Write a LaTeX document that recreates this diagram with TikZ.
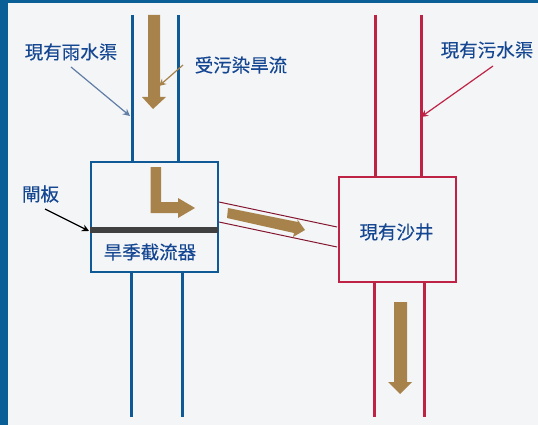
\documentclass[tikz,border=0pt]{standalone}
\usepackage{fontspec}
\setmainfont[FakeBold=0.3]{Noto Sans CJK TC}
\usetikzlibrary{arrows.meta}
\definecolor{frameblue}{RGB}{10,95,150}
\definecolor{paper}{RGB}{244,245,247}
\definecolor{pipeblue}{RGB}{15,90,150}
\definecolor{pipered}{RGB}{190,35,70}
\definecolor{flowbrown}{RGB}{168,130,75}
\definecolor{textblue}{RGB}{20,70,145}
\definecolor{leadgrey}{RGB}{95,125,165}
\tikzset{
  lbl/.style={text=textblue,font=\fontsize{18.5pt}{20pt}\selectfont,inner sep=0pt},
  bluepipe/.style={draw=pipeblue,line width=3pt},
  redpipe/.style={draw=pipered,line width=3pt},
  bluebox/.style={draw=pipeblue,line width=2pt,minimum width=127pt,minimum height=110pt,inner sep=0pt},
  redbox/.style={draw=pipered,line width=2.2pt,minimum width=117pt,minimum height=105pt,inner sep=0pt},
  flow/.style={fill=flowbrown,draw=none},
  thinred/.style={draw=pipered!70!black,line width=1pt},
  leader/.style={-{Stealth[length=7pt,width=7pt]},line width=1.2pt}
}
\begin{document}
\begin{tikzpicture}[x=1pt,y=-1pt]
  \useasboundingbox (0,0) rectangle (538,425);
  \fill[frameblue] (0,0) rectangle (538,425);
  \fill[paper] (7.5,3) rectangle (538,425);
  % boxes
  \node[bluebox] (diverter) at (154,217) {};
  \node[redbox] (well) at (397.5,229.5) {};
  % pipe ends
  \coordinate (rainLtop) at (132,15);
  \coordinate (rainRtop) at (178,15);
  \coordinate (rainLbot) at (131,417);
  \coordinate (rainRbot) at (182,417);
  \coordinate (sewLtop) at (375,15);
  \coordinate (sewRtop) at (421,15);
  \coordinate (sewLbot) at (374,417);
  \coordinate (sewRbot) at (424,417);
  \draw[bluepipe] (rainLtop) -- (diverter.north west -| rainLtop);
  \draw[bluepipe] (rainRtop) -- (diverter.north west -| rainRtop);
  \draw[bluepipe] (diverter.south west -| rainLbot) -- (rainLbot);
  \draw[bluepipe] (diverter.south west -| rainRbot) -- (rainRbot);
  \draw[redpipe] (sewLtop) -- (well.north west -| sewLtop);
  \draw[redpipe] (sewRtop) -- (well.north west -| sewRtop);
  \draw[redpipe] (well.south west -| sewLbot) -- (sewLbot);
  \draw[redpipe] (well.south west -| sewRbot) -- (sewRbot);
  % gate
  \fill[black!75] (90,227) rectangle (218,233);
  % link pipe
  \coordinate (linkAs) at (219,202);
  \coordinate (linkAe) at (337,227);
  \coordinate (linkBs) at (219,222);
  \coordinate (linkBe) at (337,247);
  \draw[thinred] (linkAs) -- (linkAe);
  \draw[thinred] (linkBs) -- (linkBe);
  % flows
  \fill[flow] (148,15) -- (160,15) -- (160,97) -- (166,97) -- (153,109) -- (142,97) -- (148,97) -- cycle;
  \fill[flow] (150.5,167) -- (161,167) -- (161,202) -- (178,202) -- (178,198) -- (195,208) -- (178,218) -- (178,213) -- (150.5,213) -- cycle;
  \fill[flow] (228,208) -- (298,222) -- (297,219) -- (305,230) -- (293,237) -- (294,233) -- (227,218) -- cycle;
  \fill[flow] (394,302) -- (407,302) -- (407,382) -- (412,382) -- (400,394) -- (388,382) -- (394,382) -- cycle;
  % labels
  \node[lbl] (rainlbl) at (71,52) {現有雨水渠};
  \node[lbl] (dirtylbl) at (241,65) {受污染旱流};
  \node[lbl] (sewlbl) at (487,50) {現有污水渠};
  \node[lbl] (gatelbl) at (40.5,194) {閘板};
  \node[lbl] (divlbl) at (150,252) {旱季截流器};
  \node[lbl] (welllbl) at (396.5,232) {現有沙井};
  % leaders
  \coordinate (rainfrom) at (71,67);
  \coordinate (rainto) at (130,116);
  \coordinate (dirtyfrom) at (183,65);
  \coordinate (dirtyto) at (159,86);
  \coordinate (sewfrom) at (493,66);
  \coordinate (sewto) at (421,117);
  \coordinate (gatefrom) at (45,209);
  \coordinate (gateto) at (89,231);
  \draw[leader,draw=leadgrey] (rainfrom) -- (rainto);
  \draw[leader,draw=flowbrown] (dirtyfrom) -- (dirtyto);
  \draw[leader,draw=pipered] (sewfrom) -- (sewto);
  \draw[leader,draw=black] (gatefrom) -- (gateto);
\end{tikzpicture}
\end{document}
